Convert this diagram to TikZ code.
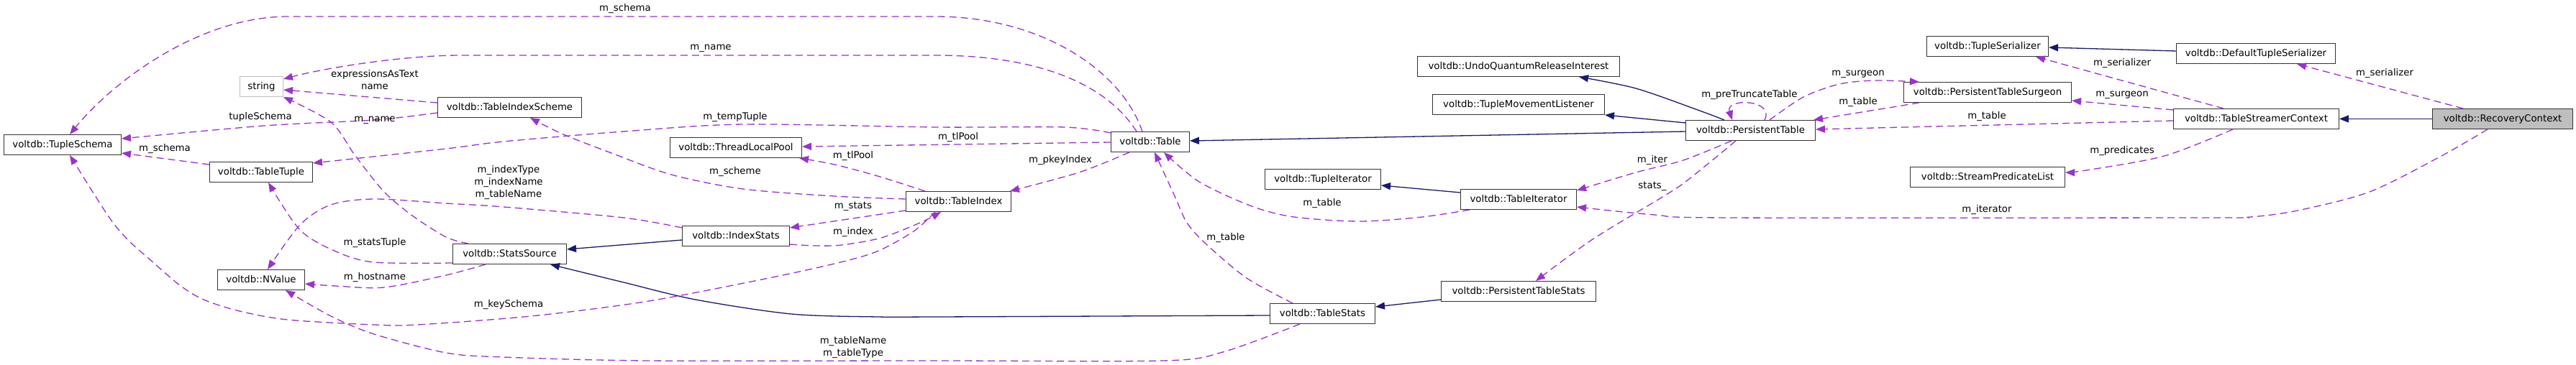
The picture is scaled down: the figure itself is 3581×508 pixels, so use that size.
\documentclass[tikz,border=0pt]{standalone}
\usepackage{fontspec}
\setmainfont{DejaVu Sans}
\usetikzlibrary{arrows.meta}
\definecolor{depc}{HTML}{9A32CD}
\definecolor{inhc}{HTML}{191970}
\definecolor{grc}{HTML}{BFBFBF}
\begin{document}
\begin{tikzpicture}[x=1pt,y=-1pt,
  cls/.style={draw=black!80, line width=1pt, fill=white, minimum height=28pt, inner sep=0pt, anchor=north west, font=\fontsize{13.3pt}{16pt}\selectfont, text height=10.5pt, text depth=2pt},
  lbl/.style={inner sep=0pt, font=\fontsize{13.3pt}{17pt}\selectfont, align=center},
  usage/.style={draw=depc, line width=1.3pt, dash pattern=on 10pt off 6pt, -{Triangle[length=13pt,width=10pt]}},
  inherit/.style={draw=inhc, line width=1.3pt, -{Triangle[length=13pt,width=10pt]}},
]
\useasboundingbox (0,0) rectangle (3581,508);
\fill[white] (0,0) rectangle (3581,508);

% nodes
\node[cls, minimum width=163pt] (tschema) at (5,187) {voltdb::TupleSchema};
\node[cls, minimum width=60pt, draw=grc] (str) at (333,106) {string};
\node[cls, minimum width=143pt] (ttuple) at (291,225) {voltdb::TableTuple};
\node[cls, minimum width=121pt] (nvalue) at (302,375) {voltdb::NValue};
\node[cls, minimum width=200pt] (tis) at (608,135) {voltdb::TableIndexScheme};
\node[cls, minimum width=183pt] (tlp) at (931,191) {voltdb::ThreadLocalPool};
\node[cls, minimum width=149pt] (istats) at (948,314) {voltdb::IndexStats};
\node[cls, minimum width=158pt] (ssrc) at (629,339) {voltdb::StatsSource};
\node[cls, minimum width=109pt] (table) at (1544,183) {voltdb::Table};
\node[cls, minimum width=146pt] (tindex) at (1259,266) {voltdb::TableIndex};
\node[cls, minimum width=161pt] (tupit) at (1758,235) {voltdb::TupleIterator};
\node[cls, minimum width=146pt] (tstats) at (1765,422) {voltdb::TableStats};
\node[cls, minimum width=281pt] (uqri) at (1970,78) {voltdb::UndoQuantumReleaseInterest};
\node[cls, minimum width=239pt] (tml) at (1991,131) {voltdb::TupleMovementListener};
\node[cls, minimum width=161pt] (tabit) at (2030,263) {voltdb::TableIterator};
\node[cls, minimum width=215pt] (pts) at (2003,391) {voltdb::PersistentTableStats};
\node[cls, minimum width=180pt] (ptable) at (2343,167) {voltdb::PersistentTable};
\node[cls, minimum width=169pt] (tser) at (2678,50) {voltdb::TupleSerializer};
\node[cls, minimum width=233pt] (surg) at (2646,114) {voltdb::PersistentTableSurgeon};
\node[cls, minimum width=215pt] (spl) at (2655,232) {voltdb::StreamPredicateList};
\node[cls, minimum width=221pt] (dts) at (3025,60) {voltdb::DefaultTupleSerializer};
\node[cls, minimum width=230pt] (tsc) at (3021,151) {voltdb::TableStreamerContext};
\node[cls, minimum width=195pt, fill=grc] (rc) at (3381,151) {voltdb::RecoveryContext};

% usage edges
\draw[usage] ([xshift=44pt]table.north west) .. controls (1560,100) and (1450,23) .. (1300,23) -- (400,23) .. controls (280,23) and (160,110) .. ([xshift=92pt]tschema.north west);
\draw[usage] ([xshift=36pt]table.north west) .. controls (1540,120) and (1450,77) .. (1300,77) -- (640,77) .. controls (560,77) and (450,95) .. ([yshift=-4pt]str.north east);
\draw[usage] ([yshift=-8pt]tis.north west) -- ([yshift=-19pt]str.north east);
\draw[usage] plot[smooth,tension=0.5] coordinates {([xshift=22pt]ssrc.north west) (620,330) (573,300) (534,267) (494,217) (460,170) (str.south east)};
\draw[usage] plot[smooth,tension=0.5] coordinates {([yshift=-22pt]tis.north west) (520,167) (367,175) ([yshift=-6pt]tschema.north east)};
\draw[usage] ([yshift=-4pt]ttuple.north west) -- ([yshift=-26pt]tschema.north east);
\draw[usage] plot[smooth,tension=0.5] coordinates {([yshift=-2pt]table.north west) (1480,177) (1300,177) (1033,173) (867,183) (700,197) (620,207) ([yshift=-2pt]ttuple.north east)};
\draw[usage] ([yshift=-15pt]table.north west) -- ([yshift=-13pt]tlp.north east);
\draw[usage] plot[smooth,tension=0.5] coordinates {([xshift=27pt]tindex.north west) (1220,245) (1160,229) ([xshift=-4pt]tlp.south east)};
\draw[usage] plot[smooth,tension=0.5] coordinates {([yshift=-11pt]tindex.north west) (1160,273) (1033,263) (933,243) (850,213) (783,187) ([xshift=129pt]tis.south west)};
\draw[usage] ([yshift=-27pt]tindex.north west) -- ([yshift=-3pt]istats.north east);
\draw[usage] plot[smooth,tension=0.5] coordinates {([yshift=-26pt]istats.north east) (1133,342) (1170,341) (1225,331) (1279,310) ([xshift=49pt]tindex.south west)};
\draw[usage] plot[smooth,tension=0.5] coordinates {([yshift=-3pt]istats.north west) (867,303) (700,288) (620,283) (520,277) (460,285) (417,313) ([xshift=70pt]nvalue.north west)};
\draw[usage] plot[smooth,tension=0.5] coordinates {([yshift=-27pt]ssrc.north west) (520,365) (467,350) (417,320) ([xshift=82pt]ttuple.south west)};
\draw[usage] plot[smooth,tension=0.5] coordinates {([xshift=46pt]ssrc.south west) (620,383) (534,400) (467,398) ([yshift=-20pt]nvalue.north east)};
\draw[usage] plot[smooth,tension=0.5] coordinates {([xshift=41pt]tindex.south west) (1270,322) (1219,350) (1160,367) (1054,390) (896,420) (738,440) (580,452) (520,452) (400,445) (333,433) (283,417) (250,397) (207,360) (177,333) (150,300) ([xshift=92pt]tschema.south west)};
\draw[usage] plot[smooth,tension=0.5] coordinates {([xshift=42pt]tstats.south west) (1700,490) (1617,502) (1300,502) (900,502) (699,497) (620,491) (520,465) (460,440) ([xshift=95pt]nvalue.south west)};
\draw[usage] plot[smooth,tension=0.5] coordinates {([xshift=32pt]tstats.north west) (1733,387) (1677,340) (1650,310) (1633,273) ([xshift=61pt]table.south west)};
\draw[usage] plot[smooth,tension=0.5] coordinates {([xshift=13pt]tabit.south west) (1977,302) (1890,308) (1799,302) (1740,287) (1667,253) ([xshift=74pt]table.south west)};
\draw[usage] plot[smooth,tension=0.5] coordinates {([xshift=64pt]ptable.south west) (2340,223) (2274,240) ([yshift=-2pt]tabit.north east)};
\draw[usage] plot[smooth,tension=0.5] coordinates {([xshift=70pt]ptable.south west) (2347,250) (2313,273) (2214,333) ([xshift=132pt]pts.north west)};
\draw[usage] ([xshift=110pt]ptable.north west) .. controls (2468,138) and (2398,136) .. ([xshift=65pt]ptable.north west);
\draw[usage] plot[smooth,tension=0.5] coordinates {([xshift=117pt]ptable.north west) (2507,135) (2557,117) (2607,112) ([xshift=22pt]surg.north west)};
\draw[usage] ([xshift=22pt]surg.south west) -- ([xshift=-3pt]ptable.north east);
\draw[usage] ([yshift=-17pt]tsc.north west) -- ([yshift=-13pt]ptable.north east);
\draw[usage] ([yshift=-2pt]tsc.north west) -- ([yshift=-26pt]surg.north east);
\draw[usage] ([xshift=70pt]tsc.north west) -- ([xshift=152pt]tser.south west);
\draw[usage] plot[smooth,tension=0.5] coordinates {([xshift=83pt]tsc.south west) (3009,217) (2900,237) ([yshift=-8pt]spl.north east)};
\draw[usage] ([xshift=43pt]rc.north west) -- ([xshift=168pt]dts.south west);
\draw[usage] plot[smooth,tension=0.5] coordinates {([xshift=77pt]rc.south west) (3394,217) (3294,267) (3194,293) (3128,302) (3061,303) (2400,303) (2300,299) ([yshift=-25pt]tabit.north east)};
\draw[usage] plot[smooth,tension=0.5] coordinates {([xshift=26pt]table.south west) (1500,240) ([xshift=-2pt]tindex.north east)};

% inheritance edges
\draw[inherit] ([yshift=-20pt]istats.north west) -- ([yshift=-8pt]ssrc.north east);
\draw[inherit] plot[smooth,tension=0.5] coordinates {([yshift=-17pt]tstats.north west) (1300,441) (1220,441) (1100,437) (967,417) (867,393) ([xshift=136pt]ssrc.south west)};
\draw[inherit] ([yshift=-26pt]pts.north west) -- ([yshift=-5pt]tstats.north east);
\draw[inherit] ([yshift=-5pt]tabit.north west) -- ([yshift=-23pt]tupit.north east);
\draw[inherit] ([yshift=-16pt]ptable.north west) -- ([yshift=-13pt]table.north east);
\draw[inherit] ([yshift=-4pt]ptable.north west) -- (tml.south east);
\draw[inherit] plot[smooth,tension=0.5] coordinates {([xshift=54pt]ptable.north west) (2360,153) (2274,123) ([xshift=225pt]uqri.south west)};
\draw[inherit] ([yshift=-11pt]dts.north west) -- ([yshift=-16pt]tser.north east);
\draw[inherit] (rc.west) -- (tsc.east);

% labels
\node[lbl] (l1) at (869,12) {m\_schema};
\node[lbl] (l2) at (988,67) {m\_name};
\node[lbl] (l3) at (521,111) {expressionsAsText\\name};
\node[lbl] (l4) at (521,167) {m\_name};
\node[lbl] (l5) at (362,163) {tupleSchema};
\node[lbl] (l6) at (229,207) {m\_schema};
\node[lbl] (l7) at (1022,163) {m\_tempTuple};
\node[lbl] (l8) at (1332,191) {m\_tlPool};
\node[lbl] (l9) at (1186,217) {m\_tlPool};
\node[lbl] (l10) at (1022,239) {m\_scheme};
\node[lbl] (l11) at (1186,287) {m\_stats};
\node[lbl] (l12) at (1186,323) {m\_index};
\node[lbl] (l13) at (707,254) {m\_indexType\\m\_indexName\\m\_tableName};
\node[lbl] (l14) at (521,338) {m\_statsTuple};
\node[lbl] (l15) at (521,386) {m\_hostname};
\node[lbl] (l16) at (707,424) {m\_keySchema};
\node[lbl] (l17) at (1186,484) {m\_tableName\\m\_tableType};
\node[lbl] (l18) at (1704,331) {m\_table};
\node[lbl] (l19) at (1838,283) {m\_table};
\node[lbl] (l20) at (1474,223) {m\_pkeyIndex};
\node[lbl] (l21) at (2297,223) {m\_iter};
\node[lbl] (l22) at (2297,259) {stats\_};
\node[lbl] (l23) at (2432,132) {m\_preTruncateTable};
\node[lbl] (l24) at (2583,103) {m\_surgeon};
\node[lbl] (l25) at (2583,142) {m\_table};
\node[lbl] (l26) at (2762,162) {m\_table};
\node[lbl] (l27) at (2950,132) {m\_surgeon};
\node[lbl] (l28) at (2950,88) {m\_serializer};
\node[lbl] (l29) at (2950,210) {m\_predicates};
\node[lbl] (l30) at (3315,102) {m\_serializer};
\node[lbl] (l31) at (2762,292) {m\_iterator};
\end{tikzpicture}
\end{document}
